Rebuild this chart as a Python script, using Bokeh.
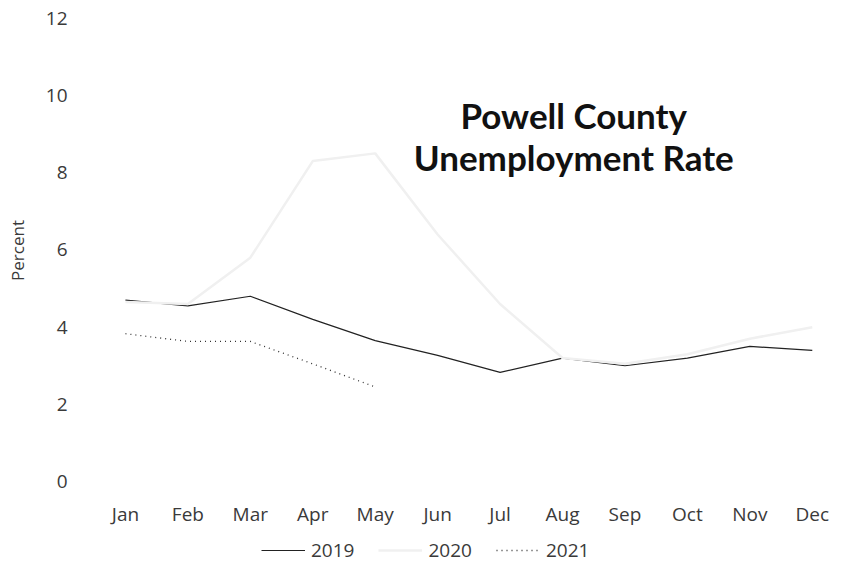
from bokeh.plotting import figure
from bokeh.layouts import column
from bokeh.models import Legend, LegendItem, FixedTicker, Range1d
from bokeh.core.properties import value
from bokeh.embed import file_html
from bokeh.resources import INLINE

months = ["Jan", "Feb", "Mar", "Apr", "May", "Jun", "Jul", "Aug", "Sep", "Oct", "Nov", "Dec"]
rate_2019 = [4.7, 4.55, 4.8, 4.2, 3.65, 3.27, 2.83, 3.2, 3.0, 3.2, 3.5, 3.4]
rate_2020 = [4.65, 4.6, 5.8, 8.3, 8.5, 6.4, 4.6, 3.2, 3.05, 3.3, 3.7, 4.0]
rate_2021 = [3.83, 3.63, 3.63, 3.05, 2.45]
y_ticks = [0, 2, 4, 6, 8, 10, 12]
title_lines = ["Powell County", "Unemployment Rate"]
years = ["2019", "2020", "2021"]

x_all = list(range(len(months)))
font = "Open Sans"
title_font = "Lato"
text_color = "#3a3a3a"

styles = {
    "2019": dict(line_color="#222222", line_width=1.2),
    "2020": dict(line_color="#f0f0f0", line_width=2.5),
    "2021": dict(line_color="#333333", line_width=1.3, line_dash="1 4"),
}
series = {"2019": rate_2019, "2020": rate_2020, "2021": rate_2021}

# main chart
p = figure(width=843, height=534, output_backend="svg", toolbar_location=None,
           x_range=Range1d(-0.8, 11.5), y_range=Range1d(-0.23, 12.2),
           min_border_left=75, min_border_right=0, min_border_top=10,
           min_border_bottom=44)
p.outline_line_color = None
p.xgrid.visible = False
p.ygrid.visible = False

for ax in (p.xaxis, p.yaxis):
    ax.axis_line_color = None
    ax.major_tick_line_color = None
    ax.minor_tick_line_color = None
    ax.major_label_text_font = font
    ax.major_label_text_font_size = "19px"
    ax.major_label_text_color = text_color

p.xaxis.ticker = FixedTicker(ticks=x_all)
p.xaxis.major_label_overrides = {i: m for i, m in enumerate(months)}
p.xaxis.major_label_standoff = 4
p.yaxis.ticker = FixedTicker(ticks=y_ticks)
p.yaxis.major_label_standoff = 2
p.yaxis.axis_label = "Percent"
p.yaxis.axis_label_text_font = font
p.yaxis.axis_label_text_font_size = "17px"
p.yaxis.axis_label_text_font_style = "normal"
p.yaxis.axis_label_text_color = text_color
p.yaxis.axis_label_standoff = 14

for yr in years:
    ys = series[yr]
    p.line(x_all[:len(ys)], ys, **styles[yr])

# two-line chart heading placed inside the plot area
p.text(x=[7.18, 7.18], y=[9.5, 8.4], text=title_lines,
       text_font=value(title_font), text_font_style="bold", text_font_size="35px",
       text_align="center", text_baseline="alphabetic", text_color="#111111")

# legend strip under the chart
leg = figure(width=843, height=39, output_backend="svg", toolbar_location=None,
             x_range=Range1d(0, 1), y_range=Range1d(100, 101),
             min_border=0)
leg.axis.visible = False
leg.grid.visible = False
leg.outline_line_color = None
items = []
for yr in years:
    ys = series[yr]
    r = leg.line(x_all[:len(ys)], ys, **styles[yr])
    items.append(LegendItem(label=yr, renderers=[r]))

legend = Legend(items=items, orientation="horizontal", location=(186, 10),
                label_text_font=font, label_text_font_size="19px",
                label_text_color=text_color, border_line_color=None,
                background_fill_alpha=0,
                glyph_width=44, spacing=24, padding=0, margin=0,
                label_standoff=6)
leg.add_layout(legend, "center")

layout = column(p, leg, spacing=0)
open("out.html", "w").write(file_html(layout, INLINE))
